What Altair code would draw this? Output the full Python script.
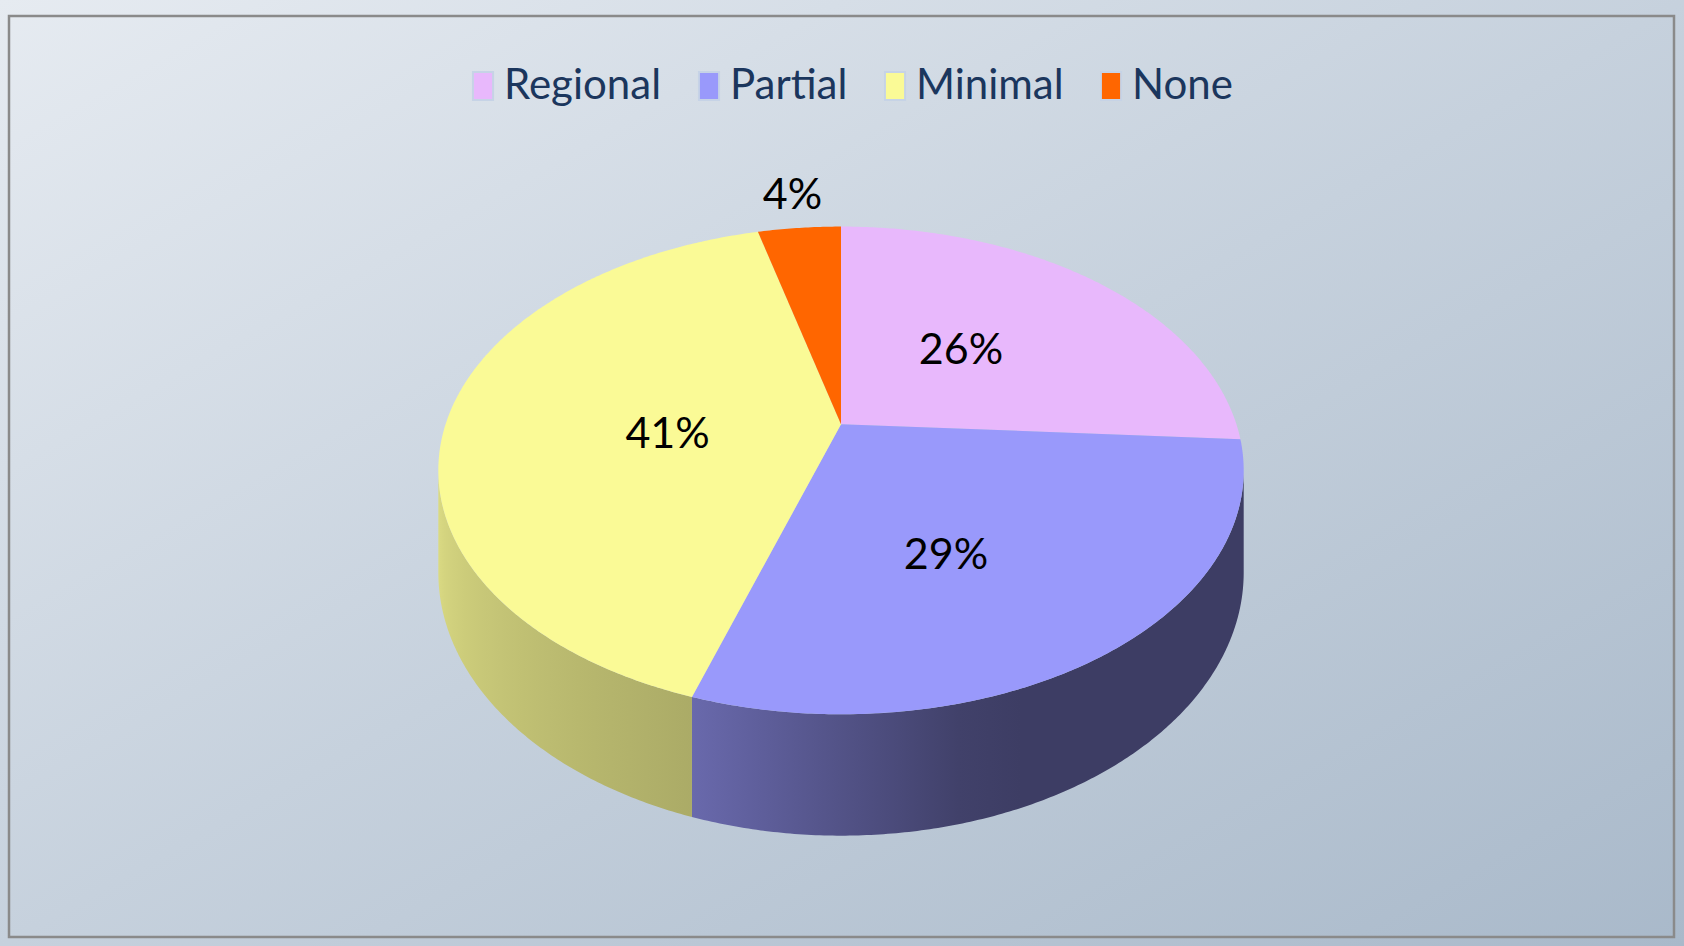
import math
import pandas as pd
import altair as alt

# ---- data ----
categories = ["Regional", "Partial", "Minimal", "None"]
values = [26, 29, 41, 4]
colors = ["#e8b8fc", "#9999fb", "#fafa96", "#ff6600"]

# ---- layout / style constants (perspective of the 3-D pie) ----
W, H = 1684, 946
CX, VY = 841.0, 424.2          # pie centre on screen
K, A, C = 395.4, -154.7, 0.1895  # perspective projection parameters
DEPTH = 98.4                   # thickness of the pie
SHADE = [(191.0, 0.88), (252.0, 0.685), (287.0, 0.40), (349.0, 0.40)]
FONT = "Lato, Liberation Sans, sans-serif"


def proj(t, r=1.0):
    u = r * math.cos(math.radians(t))
    v = r * math.sin(math.radians(t))
    den = 1 + C * v
    return CX + K * u / den, (A * v + VY) / den


def drop(t):
    return DEPTH / (1 + C * math.sin(math.radians(t)))


def shade_factor(t):
    t = t % 360
    if t <= SHADE[0][0]:
        return SHADE[0][1]
    for (a0, b0), (a1, b1) in zip(SHADE[:-1], SHADE[1:]):
        if t <= a1:
            return b0 + (b1 - b0) * (t - a0) / (a1 - a0)
    return SHADE[-1][1]


def shade(hexcol, f):
    r, g, b = (int(hexcol[i:i + 2], 16) for i in (1, 3, 5))
    return "#%02x%02x%02x" % tuple(max(0, min(255, round(c * f))) for c in (r, g, b))


total = float(sum(values))
xs = alt.X("x:Q", scale=alt.Scale(domain=[0, W], nice=False, zero=False), axis=None)
ys = alt.Y("y:Q", scale=alt.Scale(domain=[0, H], nice=False, zero=False, reverse=True), axis=None)

# ---- top faces and side faces ----
top_rows, lab_rows, side_layers = [], [], []
t = 90.0
t_right = -math.degrees(math.asin(C))
t_left = -180.0 + math.degrees(math.asin(C))
for cat, val, col in zip(categories, values, colors):
    sweep = 360.0 * val / total
    t0, t1 = t, t - sweep
    n = max(10, int(sweep * 2))
    pts = [(CX, VY)] + [proj(t0 - sweep * k / n) for k in range(n + 1)] + [(CX, VY)]
    for i, (x, y) in enumerate(pts):
        top_rows.append({"cat": cat, "i": i, "x": x, "y": y})

    # visible outer wall (front half of the pie)
    visible = 0.0
    for shift in (-360.0, 0.0, 360.0):
        lo = max(t1, t_left + shift)
        hi = min(t0, t_right + shift)
        if hi - lo > 0.01:
            visible += hi - lo
            m = max(10, int((hi - lo) * 2))
            angs = [lo + (hi - lo) * k / m for k in range(m + 1)]
            top_edge = [proj(a) for a in angs]
            bot_edge = [(proj(a)[0], proj(a)[1] + drop(a)) for a in reversed(angs)]
            poly = top_edge + bot_edge + [top_edge[0]]
            side_df = pd.DataFrame({"i": range(len(poly)),
                                    "x": [p[0] for p in poly],
                                    "y": [p[1] for p in poly]})
            xmin, xmax = top_edge[0][0], top_edge[-1][0]
            stops = []
            for a in angs[:: max(1, m // 12)] + [angs[-1]]:
                off = (proj(a)[0] - xmin) / (xmax - xmin)
                stops.append(alt.GradientStop(offset=round(min(1, max(0, off)), 4),
                                              color=shade(col, shade_factor(a))))
            grad = alt.LinearGradient(gradient="linear", stops=stops,
                                      x1=0, x2=1, y1=0, y2=0)
            side_layers.append(
                alt.Chart(side_df).mark_line(filled=True, color=grad, strokeWidth=0)
                .encode(x=xs, y=ys, order=alt.Order("i:Q"))
            )

    mid = (t0 + t1) / 2
    if val / total >= 0.08:
        lx, ly = proj(mid, 0.44)
        ly += DEPTH * (0.5 * visible / sweep - 0.06)
    else:
        lx, ly = proj(mid, 1.2)
    lab_rows.append({"cat": cat, "label": f"{val}%", "x": lx, "y": ly})
    t = t1

top_df = pd.DataFrame(top_rows)
lab_df = pd.DataFrame(lab_rows)

# ---- background and frame ----
bg = alt.Chart(pd.DataFrame({"a": [0]})).mark_rect(
    color=alt.LinearGradient(
        gradient="linear",
        stops=[alt.GradientStop(offset=0, color="#e6ebf1"),
               alt.GradientStop(offset=0.5, color="#c6d1dd"),
               alt.GradientStop(offset=1, color="#a9b9ca")],
        x1=0, y1=0, x2=1, y2=1)
).encode(x=alt.value(0), x2=alt.value(W), y=alt.value(0), y2=alt.value(H))

frame = alt.Chart(pd.DataFrame({"a": [0]})).mark_rect(
    filled=False, stroke="#8a8a8a", strokeWidth=2.5
).encode(x=alt.value(9), x2=alt.value(1674), y=alt.value(16), y2=alt.value(937))

top = alt.Chart(top_df).mark_line(filled=True, strokeWidth=0).encode(
    x=xs, y=ys, order=alt.Order("i:Q"),
    color=alt.Color(
        "cat:N",
        scale=alt.Scale(domain=categories, range=colors),
        sort=categories,
        legend=alt.Legend(
            title=None, orient="none", legendX=462, legendY=65,
            direction="horizontal", padding=0,
            symbolType="M-0.72,-1H0.72V1H-0.72Z", symbolSize=784,
            symbolStrokeColor="#c6d3e6", symbolStrokeWidth=2, symbolOpacity=1,
            labelFont=FONT, labelFontSize=42, labelColor="#1b365d",
            labelOffset=0, columnPadding=26, labelLimit=400,
        ),
    ),
)

labels = alt.Chart(lab_df).mark_text(
    font=FONT, fontSize=43, color="#000000", align="center", baseline="middle"
).encode(x=xs, y=ys, text="label:N")

chart = alt.layer(bg, frame, *side_layers, top, labels).properties(
    width=W, height=H, padding=0, autosize=alt.AutoSizeParams(type="none"),
    background="#dfe5ec",
).configure_view(stroke=None)

chart.save("out.html", embed_options={"renderer": "svg", "actions": False})
